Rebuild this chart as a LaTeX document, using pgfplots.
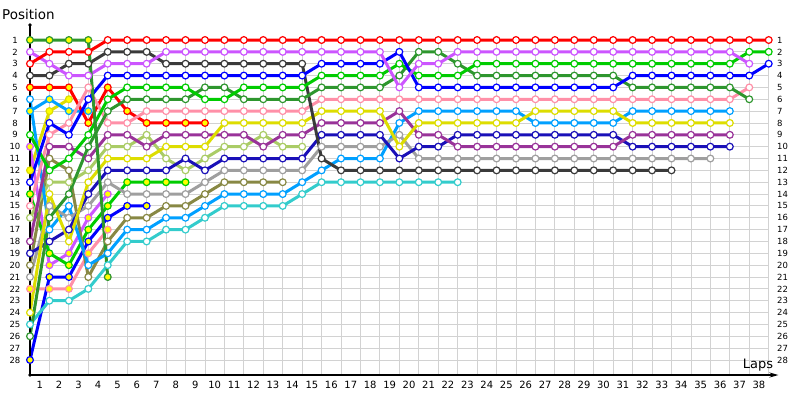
\documentclass[border=0pt]{standalone}
\usepackage{fontspec}
\setmainfont{DejaVu Sans}
\usepackage{pgfplots}
\pgfplotsset{compat=1.18}
\usetikzlibrary{arrows.meta}
\definecolor{gridc}{HTML}{D2D2D2}
\definecolor{cR}{HTML}{FF0000}
\definecolor{cK}{HTML}{3A3A3A}
\definecolor{cV}{HTML}{CC55FF}
\definecolor{cB}{HTML}{0000FF}
\definecolor{cDB}{HTML}{1A10B8}
\definecolor{cG}{HTML}{00CC00}
\definecolor{cFG}{HTML}{2E962E}
\definecolor{cP}{HTML}{FF90A8}
\definecolor{cPu}{HTML}{993399}
\definecolor{cLO}{HTML}{AACC66}
\definecolor{cY}{HTML}{DDDD00}
\definecolor{cGr}{HTML}{9F9F9F}
\definecolor{cO}{HTML}{888844}
\definecolor{cLB}{HTML}{00A0FF}
\definecolor{cT}{HTML}{33CCCC}
\definecolor{fY}{HTML}{FFFF00}
\tikzset{drv/.style 2 args={line width=3bp, color=#1, mark=*, mark size=3.4bp,
  mark options={fill=#2, draw=#1, line width=1.2bp}}}
\begin{document}
\begin{tikzpicture}
\begin{axis}[
  scale only axis, width=738.7bp, height=335bp,
  xmin=0, xmax=38, ymin=1, ymax=29.27, y dir=reverse,
  clip=false,
  axis line style={draw=none},
  xtick={0.5,1.5,...,37.5},
  xticklabels={1,2,3,4,5,6,7,8,9,10,11,12,13,14,15,16,17,18,19,20,21,22,23,24,25,26,27,28,29,30,31,32,33,34,35,36,37,38},
  minor xtick={0,1,...,38},
  xminorgrids=true, xmajorgrids=false,
  ytick={1,2,...,28}, ymajorgrids=true,
  major tick length=0pt, minor tick length=0pt,
  grid style={draw=gridc, line width=0.9bp},
  minor grid style={draw=gridc, line width=0.9bp},
  xticklabel style={font=\fontsize{10}{12}\selectfont, yshift=-3bp},
  yticklabel style={font=\fontsize{8.5}{10}\selectfont, anchor=center, xshift=-15bp},
  /pgf/number format/assume math mode=true,
]
% retired early
\addplot[drv={cY}{fY}] coordinates {(0,12)(1,7)(2,6)};
\addplot[drv={cLB}{fY}] coordinates {(0,7)(1,6)(2,7)(3,7)};
\addplot[drv={cP}{fY}] coordinates {(0,22)(1,22)(2,22)(3,19)(4,17)};
\addplot[drv={cV}{fY}] coordinates {(0,10)(1,20)(2,19)(3,16)(4,14)};
\addplot[drv={cB}{fY}] coordinates {(0,28)(1,21)(2,21)(3,18)(4,16)(5,15)(6,15)};
\addplot[drv={cG}{fY}] coordinates {(0,14)(1,19)(2,20)(3,17)(4,15)(5,13)(6,13)(7,13)(8,13)};
\addplot[drv={cO}{white}] coordinates {(0,20)(1,11)(2,12)(3,21)(4,18)(5,16)(6,16)(7,15)(8,15)(9,14)(10,13)(11,13)(12,13)(13,13)};
\addplot[drv={cLO}{white}] coordinates {(0,16)(1,13)(2,13)(3,12)(4,10)(5,10)(6,9)(7,11)(8,12)(9,11)(10,10)(11,10)(12,9)(13,10)(14,10)};
\addplot[drv={cT}{white}] coordinates {(0,25)(1,23)(2,23)(3,22)(4,20)(5,18)(6,18)(7,17)(8,17)(9,16)(10,15)(11,15)(12,15)(13,15)(14,14)(15,13)(16,13)(17,13)(18,13)(19,13)(20,13)(21,13)(22,13)};
\addplot[drv={cLB}{white}] coordinates {(0,6)(1,17)(2,15)(3,20)(4,19)(5,17)(6,17)(7,16)(8,16)(9,15)(10,14)(11,14)(12,14)(13,14)(14,13)(15,12)(16,11)(17,11)(18,11)(19,8)(20,7)(21,7)(22,7)(23,7)(24,7)(25,7)(26,8)(27,8)(28,8)(29,8)(30,8)(31,7)(32,7)(33,7)(34,7)(35,7)(36,7)};
\addplot[drv={cGr}{white}] coordinates {(0,21)(1,15)(2,16)(3,15)(4,13)(5,14)(6,14)(7,14)(8,14)(9,13)(10,12)(11,12)(12,12)(13,12)(14,12)(15,10)(16,10)(17,10)(18,10)(19,9)(20,11)(21,11)(22,11)(23,11)(24,11)(25,11)(26,11)(27,11)(28,11)(29,11)(30,11)(31,11)(32,11)(33,11)(34,11)(35,11)};
\addplot[drv={cDB}{white}] coordinates {(0,19)(1,18)(2,17)(3,14)(4,12)(5,12)(6,12)(7,12)(8,11)(9,12)(10,11)(11,11)(12,11)(13,11)(14,11)(15,9)(16,9)(17,9)(18,9)(19,11)(20,10)(21,10)(22,9)(23,9)(24,9)(25,9)(26,9)(27,9)(28,9)(29,9)(30,9)(31,10)(32,10)(33,10)(34,10)(35,10)(36,10)};
\addplot[drv={cPu}{white}] coordinates {(0,18)(1,10)(2,10)(3,11)(4,9)(5,9)(6,10)(7,9)(8,9)(9,9)(10,9)(11,9)(12,10)(13,9)(14,9)(15,8)(16,8)(17,8)(18,8)(19,7)(20,9)(21,9)(22,10)(23,10)(24,10)(25,10)(26,10)(27,10)(28,10)(29,10)(30,10)(31,9)(32,9)(33,9)(34,9)(35,9)(36,9)};
\addplot[drv={cY}{white}] coordinates {(0,24)(1,14)(2,18)(3,13)(4,11)(5,11)(6,11)(7,10)(8,10)(9,10)(10,8)(11,8)(12,8)(13,8)(14,8)(15,7)(16,7)(17,7)(18,7)(19,10)(20,8)(21,8)(22,8)(23,8)(24,8)(25,8)(26,7)(27,7)(28,7)(29,7)(30,7)(31,8)(32,8)(33,8)(34,8)(35,8)(36,8)};
\addplot[drv={cR}{fY}] coordinates {(0,5)(1,5)(2,5)(3,8)(4,5)(5,7)(6,8)(7,8)(8,8)(9,8)};
\addplot[drv={cP}{white}] coordinates {(0,15)(1,9)(2,8)(3,5)(4,8)(5,8)(6,7)(7,7)(8,7)(9,7)(10,7)(11,7)(12,7)(13,7)(14,7)(15,6)(16,6)(17,6)(18,6)(19,6)(20,6)(21,6)(22,6)(23,6)(24,6)(25,6)(26,6)(27,6)(28,6)(29,6)(30,6)(31,6)(32,6)(33,6)(34,6)(35,6)(36,6)(37,5)};
\addplot[drv={cK}{white}] coordinates {(0,4)(1,4)(2,3)(3,3)(4,2)(5,2)(6,2)(7,3)(8,3)(9,3)(10,3)(11,3)(12,3)(13,3)(14,3)(15,11)(16,12)(17,12)(18,12)(19,12)(20,12)(21,12)(22,12)(23,12)(24,12)(25,12)(26,12)(27,12)(28,12)(29,12)(30,12)(31,12)(32,12)(33,12)};
\addplot[drv={cFG}{white}] coordinates {(0,26)(1,16)(2,14)(3,10)(4,7)(5,6)(6,6)(7,6)(8,6)(9,5)(10,5)(11,6)(12,6)(13,6)(14,6)(15,5)(16,5)(17,5)(18,5)(19,4)(20,2)(21,2)(22,3)(23,4)(24,4)(25,4)(26,4)(27,4)(28,4)(29,4)(30,4)(31,5)(32,5)(33,5)(34,5)(35,5)(36,5)(37,6)};
\addplot[drv={cG}{white}] coordinates {(0,9)(1,12)(2,11)(3,9)(4,6)(5,5)(6,5)(7,5)(8,5)(9,6)(10,6)(11,5)(12,5)(13,5)(14,5)(15,4)(16,4)(17,4)(18,4)(19,3)(20,4)(21,4)(22,4)(23,3)(24,3)(25,3)(26,3)(27,3)(28,3)(29,3)(30,3)(31,3)(32,3)(33,3)(34,3)(35,3)(36,3)(37,2)(38,2)};
\addplot[drv={cB}{white}] coordinates {(0,13)(1,8)(2,9)(3,6)(4,4)(5,4)(6,4)(7,4)(8,4)(9,4)(10,4)(11,4)(12,4)(13,4)(14,4)(15,3)(16,3)(17,3)(18,3)(19,2)(20,5)(21,5)(22,5)(23,5)(24,5)(25,5)(26,5)(27,5)(28,5)(29,5)(30,5)(31,4)(32,4)(33,4)(34,4)(35,4)(36,4)(37,4)(38,3)};
\addplot[drv={cV}{white}] coordinates {(0,2)(1,3)(2,4)(3,4)(4,3)(5,3)(6,3)(7,2)(8,2)(9,2)(10,2)(11,2)(12,2)(13,2)(14,2)(15,2)(16,2)(17,2)(18,2)(19,5)(20,3)(21,3)(22,2)(23,2)(24,2)(25,2)(26,2)(27,2)(28,2)(29,2)(30,2)(31,2)(32,2)(33,2)(34,2)(35,2)(36,2)(37,3)};
\addplot[drv={cFG}{fY}] coordinates {(0,1)(1,1)(2,1)(3,1)(4,21)};
\addplot[drv={cR}{white}] coordinates {(0,3)(1,2)(2,2)(3,2)(4,1)(5,1)(6,1)(7,1)(8,1)(9,1)(10,1)(11,1)(12,1)(13,1)(14,1)(15,1)(16,1)(17,1)(18,1)(19,1)(20,1)(21,1)(22,1)(23,1)(24,1)(25,1)(26,1)(27,1)(28,1)(29,1)(30,1)(31,1)(32,1)(33,1)(34,1)(35,1)(36,1)(37,1)(38,1)};
% axis lines
\draw[black, line width=1.5bp, -{Stealth[length=9bp,width=5bp]}] (axis cs:0,29.27) -- (axis cs:38.5,29.27);
\draw[black, line width=1.3bp] (axis cs:0,29.27) -- (axis cs:0,-0.27);
\fill[black] (axis cs:0,-0.27) circle (1.8bp);
\fill[black] (axis cs:0,29.27) circle (1.8bp);
\node[anchor=west, font=\fontsize{13.5}{16}\selectfont, inner sep=0pt] at (axis cs:-1.44,-1.19) {Position};
\node[font=\fontsize{13}{15}\selectfont, inner sep=0pt] at (axis cs:37.45,28.4) {Laps};
\path (axis cs:-1.543,-2.376) rectangle (axis cs:39.61,31.38);
\end{axis}
\begin{axis}[
  scale only axis, width=738.7bp, height=335bp,
  xmin=0, xmax=38, ymin=1, ymax=29.27, y dir=reverse,
  axis line style={draw=none},
  xtick=\empty, ytick={1,2,...,28}, yticklabel pos=right,
  major tick length=0pt,
  yticklabel style={font=\fontsize{8.5}{10}\selectfont, xshift=5bp},
  /pgf/number format/assume math mode=true,
]
\addplot[draw=none] coordinates {(0,1)};
\end{axis}
\end{tikzpicture}
\end{document}
